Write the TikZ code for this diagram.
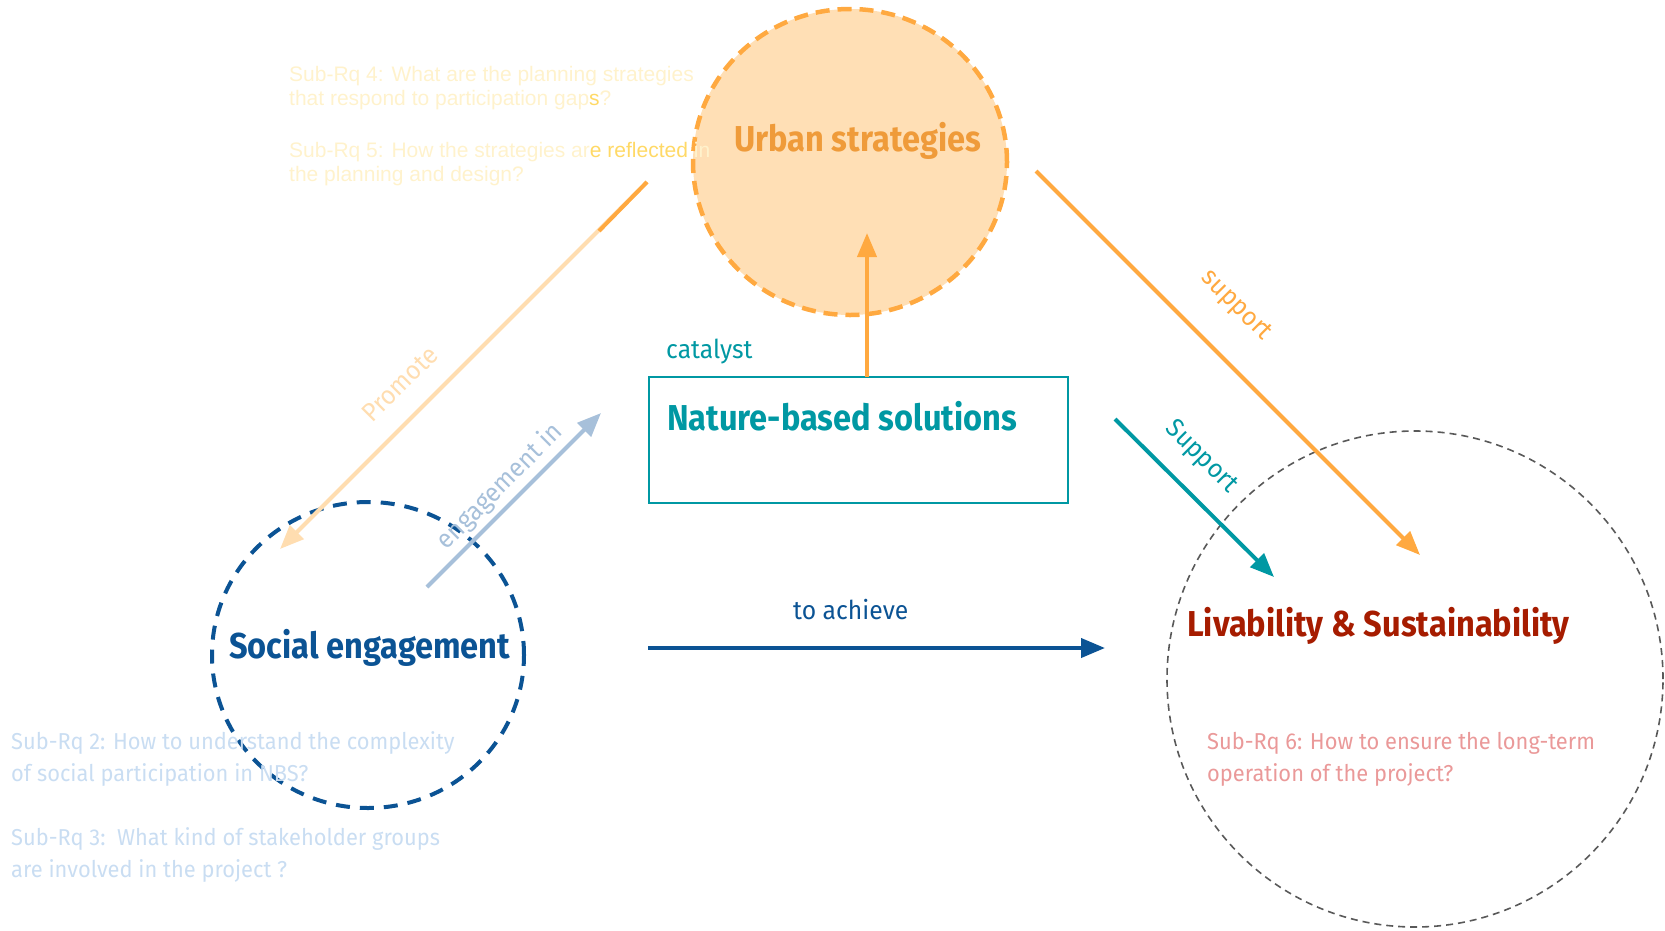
\documentclass[tikz,border=0pt]{standalone}
\usepackage{fontspec}
\setmainfont{Fira Sans}[FakeStretch=0.95]
\newfontfamily\headfont{Fira Sans}[FakeStretch=0.905]
\newfontfamily\arialfont{Liberation Sans}
\usetikzlibrary{arrows.meta,shapes.geometric,positioning}
\definecolor{urbanorange}{HTML}{FFA940}
\definecolor{urbanfill}{HTML}{FFDFB5}
\definecolor{urbantext}{HTML}{EF9B3A}
\definecolor{promotepeach}{HTML}{FFDDB0}
\definecolor{socialblue}{HTML}{0B5394}
\definecolor{engageblue}{HTML}{A7C0DA}
\definecolor{subblue}{HTML}{C9DDF2}
\definecolor{nbsteal}{HTML}{0098A3}
\definecolor{livred}{HTML}{A61C00}
\definecolor{subpink}{HTML}{EA9999}
\definecolor{subyellow}{HTML}{FFF2CC}
\definecolor{subyellowdark}{HTML}{FFD966}
\definecolor{ringgrey}{HTML}{595959}
\tikzset{
  link/.style={
    -{Triangle[length=24pt,width=19pt]},
    line width=4pt
  },
  ring/.style={
    ellipse,
    draw,
    inner sep=0pt
  },
  heading/.style={
    font=\headfont\bfseries\fontsize{36}{40}\selectfont,
    inner sep=0pt,
    anchor=base west
  },
  linklabel/.style={
    font=\fontsize{26}{30}\selectfont,
    inner sep=0pt
  },
  question/.style={
    font=\fontsize{23}{32}\selectfont,
    inner sep=0pt,
    anchor=base west,
    align=left
  }
}

\begin{document}
\begin{tikzpicture}[x=1pt,y=-1pt]
  \useasboundingbox (0,0) rectangle (1665,930);

  % rings
  \node[ring, fill=urbanfill, draw=urbanorange, line width=4.5pt, dash pattern=on 14pt off 8pt,
        minimum width=314pt, minimum height=306pt] (urban) at (850,162) {};
  \node[ring, draw=socialblue, line width=4pt, dash pattern=on 14pt off 10pt,
        minimum width=312pt, minimum height=306pt] (social) at (368,655) {};
  \node[ring, draw=ringgrey, line width=1.6pt, dash pattern=on 7pt off 5pt,
        minimum width=496pt, minimum height=496pt] (livab) at (1415,679) {};
  \node[draw=nbsteal, line width=2pt, minimum width=419pt, minimum height=126pt, inner sep=0pt]
        (nbs) at (858.5,440) {};

  % headings
  \node[heading, text=urbantext] (urban-title) at (734,151) {Urban strategies};
  \node[heading, text=socialblue] (social-title) at (229,658) {Social engagement};
  \node[heading, text=livred] (livab-title) at (1187,636) {Livability \& Sustainability};
  \node[heading, text=nbsteal] (nbs-title) at (667,430) {Nature-based solutions};
  \node[linklabel, anchor=base west, text=nbsteal] (catalyst) at (666,358) {catalyst};

  % sub-questions (base = last line)
  \node[question, text=subyellow, font=\arialfont\fontsize{21}{24}\selectfont] (rq45) at (289,181)
    {Sub-Rq 4: What are the planning strategies\\
     that respond to participation gap{\color{subyellowdark}s}?\\[28pt]
     Sub-Rq 5: How the strategies ar{\color{subyellowdark}e reflected} in\\
     the planning and design?};
  \node[question, text=subblue] (rq23) at (11,877)
    {Sub-Rq 2: How to understand the complexity\\
     of social participation in NBS?\\[32pt]
     Sub-Rq 3:\ \ What kind of stakeholder groups\\
     are involved in the project ?};
  \node[question, text=subpink] (rq6) at (1207,781)
    {Sub-Rq 6: How to ensure the long-term\\
     operation of the project?};

  % arrow ends
  \coordinate (nbs-up) at (867,377);
  \coordinate (urban-in) at (867,233);
  \coordinate (urban-out) at (1036,171);
  \coordinate (livab-in) at (1420,555);
  \coordinate (nbs-out) at (1115,419);
  \coordinate (livab-in2) at (1274,577);
  \coordinate (promote-start) at (647,182);
  \coordinate (promote-mid) at (599,231);
  \coordinate (social-in) at (280,549);
  \coordinate (social-out) at (427,587);
  \coordinate (nbs-in) at (601,413);
  \coordinate (achieve-start) at (648,648);
  \coordinate (achieve-end) at (1105,648);

  % links
  \draw[link, color=urbanorange] (nbs-up) -- (urban-in);
  \draw[link, color=urbanorange] (urban-out) -- (livab-in);
  \draw[link, color=nbsteal] (nbs-out) -- (livab-in2);
  \draw[link, color=promotepeach] (promote-start) -- (social-in);
  \draw[line width=4pt, color=urbanorange] (promote-start) -- (promote-mid);
  \draw[link, color=engageblue] (social-out) -- (nbs-in);
  \draw[link, color=socialblue] (achieve-start) -- (achieve-end);

  % link labels
  \node[linklabel, rotate=45, text=promotepeach] (promote) at (400,384) {Promote};
  \node[linklabel, rotate=45, text=engageblue] (engage) at (500,487) {engagement in};
  \node[linklabel, rotate=-45, text=urbanorange] (support-urban) at (1236,306) {support};
  \node[linklabel, rotate=-45, text=nbsteal] (support-nbs) at (1201,457) {Support};
  \node[linklabel, anchor=base west, text=socialblue] (achieve) at (793,619) {to achieve};
\end{tikzpicture}
\end{document}
